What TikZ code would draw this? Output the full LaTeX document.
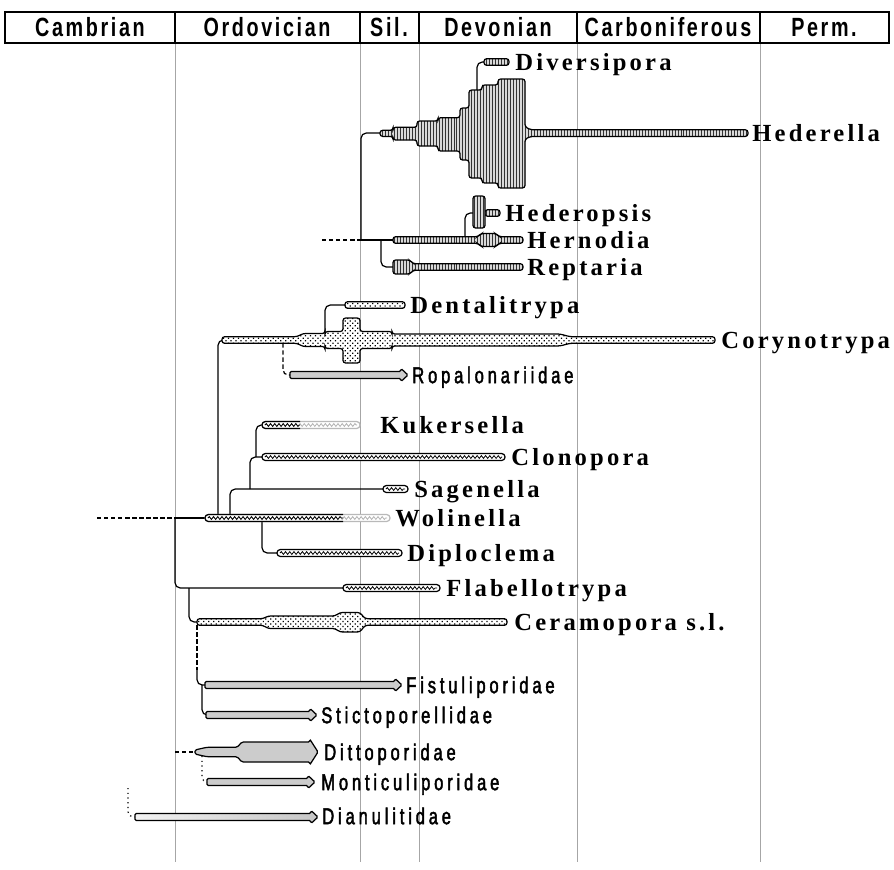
\documentclass[tikz,border=0pt]{standalone}
\usepackage{fontspec}
\setmainfont{Liberation Serif}
\newfontfamily\taxfont[LetterSpace=13]{Liberation Serif}
\newfontfamily\famfont[FakeStretch=0.72,FakeBold=2,LetterSpace=17]{Liberation Sans}
\newfontfamily\perfont[FakeStretch=0.75,LetterSpace=10]{Liberation Sans Bold}
\usetikzlibrary{patterns.meta,decorations.pathmorphing,calc}

\tikzset{
  branch/.style={line width=0.7pt, rounded corners=3pt},
  vbar/.style={draw, line width=0.7pt, rounded corners=1.5pt, preaction={fill=gray!30},
    pattern={Lines[angle=90,distance=1.7pt,line width=0.55pt]}, pattern color=black!80},
  dbar/.style={draw, line width=0.7pt, rounded corners=1.5pt, preaction={fill=white},
    pattern={Dots[distance=2pt,radius=0.5pt,angle=45]}, pattern color=black},
  wbar/.style={draw, line width=0.7pt, rounded corners=1.8pt, fill=white},
  wave/.style={line width=0.45pt, decorate, decoration={snake, amplitude=0.8pt, segment length=2.4pt}},
  farrow/.style={draw, line width=0.7pt, rounded corners=0.8pt, fill=gray!40},
  taxon/.style={anchor=west, inner sep=0pt, text height=9.3pt, text depth=0pt,
    font=\taxfont\bfseries\fontsize{14}{16}\selectfont},
  family/.style={anchor=west, inner sep=0pt, text height=9.3pt, text depth=0pt,
    font=\famfont\fontsize{13}{15}\selectfont},
  period/.style={inner sep=0pt, text height=10.7pt, text depth=0pt,
    font=\perfont\fontsize{15}{17}\selectfont}
}

\newcommand\thinbar[3]{\draw[wbar] (#1,#2-3.4) rectangle (#3,#2+3.4);
  \draw[wave] (#1+3,#2) -- (#3-3,#2);}
\newcommand\fadebar[3]{\draw[wbar, draw=gray!55] (#1,#2-3.4) rectangle (#3,#2+3.4);
  \draw[wave, gray!60] (#1+3,#2) -- (#3-3,#2);}
\newcommand\solidpart[3]{\draw[line width=0.7pt, rounded corners=1.8pt] (#3,#2-3.4) -- (#1,#2-3.4) -- (#1,#2+3.4) -- (#3,#2+3.4);
  \draw[wave] (#1+3,#2) -- (#3,#2);}
\newcommand\famarrow[4][]{\draw[farrow,#1] (#2,#3-3.6) -- (#4-7,#3-3.6) -- (#4-7,#3-6.5) -- (#4,#3)
  -- (#4-7,#3+6.5) -- (#4-7,#3+3.6) -- (#2,#3+3.6) -- cycle;}

\begin{document}
\begin{tikzpicture}[x=0.02cm, y=-0.02cm]
\useasboundingbox (0,0) rectangle (894,870);

% time scale
\foreach \x in {175,360,419,577,760}
  \draw[gray!70, line width=0.4pt] (\x,43) -- (\x,862);
\draw[line width=1.3pt] (5,12) rectangle (889,43);
\foreach \x in {175,360,419,577,760}
  \draw[line width=1pt] (\x,12) -- (\x,43);
\node[period] (camb) at (90,27) {Cambrian};
\node[period] (ordo) at (267,27) {Ordovician};
\node[period] (sil) at (389,27) {Sil.};
\node[period] (devo) at (498,27) {Devonian};
\node[period] (carb) at (668,27) {Carboniferous};
\node[period] (perm) at (824,27) {Perm.};

% labels
\node[taxon] (div) at (515,62) {Diversipora};
\node[taxon] (hed) at (752,133) {Hederella};
\node[taxon] (hop) at (505,213) {Hederopsis};
\node[taxon] (her) at (527,240) {Hernodia};
\node[taxon] (rep) at (527,267) {Reptaria};
\node[taxon] (den) at (410,305) {Dentalitrypa};
\node[taxon] (cor) at (721,340) {Corynotrypa};
\node[family] (rop) at (412,375) {Ropalonariidae};
\node[taxon] (kuk) at (380,425) {Kukersella};
\node[taxon] (clo) at (511,457) {Clonopora};
\node[taxon] (sag) at (414,489) {Sagenella};
\node[taxon] (wol) at (395,518) {Wolinella};
\node[taxon] (dip) at (407,553) {Diploclema};
\node[taxon] (fla) at (446,588) {Flabellotrypa};
\node[taxon] (cer) at (514,622) {Ceramopora s.l.};
\node[family] (fis) at (406,685) {Fistuliporidae};
\node[family] (sti) at (321,715) {Stictoporellidae};
\node[family] (dit) at (324,752) {Dittoporidae};
\node[family] (mon) at (321,782) {Monticuliporidae};
\node[family] (dia) at (322,816) {Dianulitidae};

% Hederella clade
\draw[line width=0.7pt, dash pattern=on 2.5pt off 1.5pt] (322,240) -- (361,240);
\draw[branch] (361,240) -- (393,240);
\draw[branch] (361,240) |- (380,133);
\draw[branch] (381,240) |- (393,267);
\draw[branch] (465,237) |- (473,213);
\draw[branch] (477,90) |- (484,62);
\draw[vbar] (380,130.3) -- (393,130.3) -- (393,127.3) -- (417,127.3) -- (417,121) -- (438,121)
  -- (438,117.7) -- (460,117.7) -- (460,108) -- (469,108) -- (469,90) -- (482,90) -- (482,85)
  -- (498,85) -- (498,79) -- (525,79) -- (525,127) -- (531,129.8) -- (748,129.8) -- (748,136.4)
  -- (531,136.4) -- (525,139) -- (525,188) -- (498,188) -- (498,183) -- (482,183) -- (482,178)
  -- (469,178) -- (469,160) -- (460,160) -- (460,151) -- (438,151) -- (438,146) -- (417,146)
  -- (417,140) -- (393,140) -- (393,136.4) -- (380,136.4) -- cycle;
\draw[vbar] (484,58.7) rectangle (509,65.3);
\draw[vbar] (485,209.7) rectangle (500,216.3);
\draw[vbar] (473,196) rectangle (485,228);
\draw[vbar] (393,236.7) -- (478,236.7) -- (481,233.5) -- (496,233.5) -- (499,236.7) -- (523,236.7)
  -- (523,243.3) -- (499,243.3) -- (496,246.5) -- (481,246.5) -- (478,243.3) -- (393,243.3) -- cycle;
\draw[vbar] (393,260) -- (410,260) -- (413,263.7) -- (523,263.7) -- (523,270.3) -- (413,270.3)
  -- (410,274) -- (393,274) -- cycle;

% Corynotrypa clade
\draw[branch] (218,514.6) |- (222,340);
\draw[branch] (325,332) |- (345,305);
\draw[branch, dash pattern=on 2.5pt off 1.5pt] (283,343.3) |- (292,375);
\draw[dbar] (222,336.7) -- (297,336.7) -- (303,333.5) -- (325,333.5) -- (325,331.5) -- (343,331.5)
  -- (343,318) -- (360,318) -- (360,331.5) -- (392,331.5) -- (392,334) -- (560,334) -- (570,336.7)
  -- (715,336.7) -- (715,343.3) -- (570,343.3) -- (560,346) -- (392,346) -- (392,348.5) -- (360,348.5)
  -- (360,363) -- (343,363) -- (343,348.5) -- (325,348.5) -- (325,346.5) -- (303,346.5)
  -- (297,343.3) -- (222,343.3) -- cycle;
\draw[dbar] (345,301.7) rectangle (405,308.3);
\famarrow{290}{375}{408}

% Wolinella clade
\draw[line width=0.7pt, dash pattern=on 2.5pt off 1.5pt] (97,518) -- (175,518);
\draw[branch] (175,518) -- (205,518);
\draw[branch] (175,518) |- (343,588);
\draw[branch] (189,588) |- (197,622);
\draw[branch] (230,514.6) |- (383,489);
\draw[branch] (250,489) |- (262,457);
\draw[branch] (256,457) |- (262,425);
\draw[branch] (262,521.4) |- (277,553);
\fadebar{205}{518}{390}
\solidpart{205}{518}{343}
\fadebar{262}{425}{360}
\solidpart{262}{425}{300}
\thinbar{262}{457}{505}
\thinbar{383}{489}{408}
\thinbar{277}{553}{402}
\thinbar{343}{588}{440}
\draw[dbar] (197,618.7) -- (263,618.7) -- (268,616) -- (335,616) -- (340,612.5) -- (360,612.5)
  -- (365,618.7) -- (507,618.7) -- (507,625.3) -- (365,625.3) -- (360,632) -- (340,632)
  -- (335,628.5) -- (268,628.5) -- (263,625.3) -- (197,625.3) -- cycle;

% families
\draw[line width=0.7pt, dash pattern=on 2.5pt off 1.5pt] (197,625.3) -- (197,670);
\draw[branch] (197,670) |- (205,685);
\draw[branch] (202,685) |- (206,715);
\famarrow{205}{685}{402}
\famarrow{206}{715}{317}
\draw[line width=0.7pt, dash pattern=on 2.5pt off 1.5pt] (175,752) -- (195,752);
\draw[farrow] (195,750) -- (200,748.8) -- (207,747.3) -- (237,747.3) -- (242,742) -- (310,742)
  -- (310,739.5) -- (318,752) -- (310,764.5) -- (310,762) -- (242,762) -- (237,756.7)
  -- (207,756.7) -- (200,755.2) -- (195,754) -- cycle;
\draw[branch, dotted] (202,756) |- (207,782);
\famarrow{207}{782}{315}
\draw[branch, dotted] (128,788) |- (135,817);
\famarrow[left color=gray!10, right color=gray!45]{135}{817}{318}
\end{tikzpicture}
\end{document}
